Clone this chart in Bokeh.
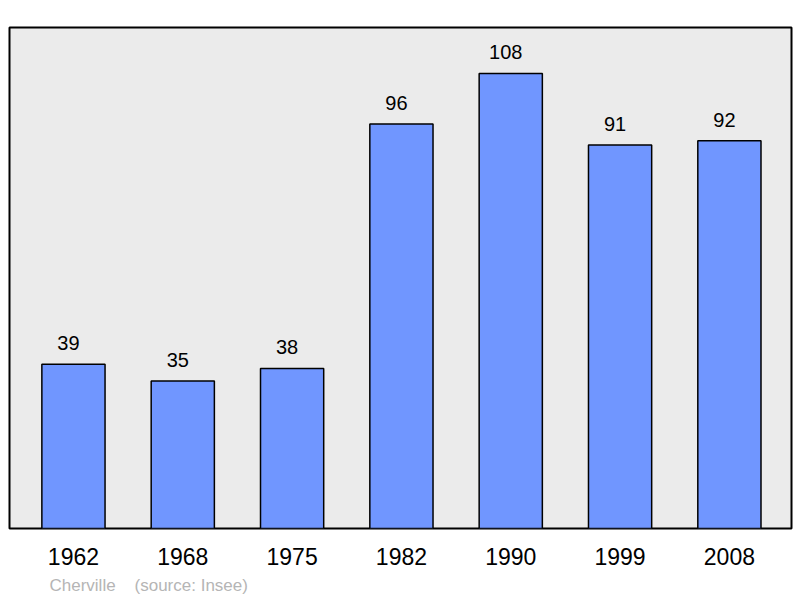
from bokeh.plotting import figure
from bokeh.models import ColumnDataSource, FixedTicker, Range1d, Title
from bokeh.core.properties import value
from bokeh.embed import file_html
from bokeh.resources import INLINE

years = ["1962", "1968", "1975", "1982", "1990", "1999", "2008"]
population = [39, 35, 38, 96, 108, 91, 92]
commune = "Cherville"
source_note = "(source: Insee)"

FONT = "Liberation Sans"
idx = list(range(len(years)))
src = ColumnDataSource(dict(x=idx, top=population, label=[str(v) for v in population]))

p = figure(frame_width=782, frame_height=501,
           x_range=Range1d(-0.585, 6.568), y_range=Range1d(0, 118.9),
           output_backend="svg", toolbar_location=None,
           min_border_left=9, min_border_right=7, min_border_top=27, min_border_bottom=0,
           background_fill_color="#ebebeb", border_fill_color="white")
p.outline_line_color = "black"
p.outline_line_width = 2
p.xgrid.visible = False
p.ygrid.visible = False
p.yaxis.visible = False

p.vbar(x="x", top="top", bottom=0, width=0.578, source=src,
       fill_color="#7096ff", line_color="black", line_width=1.5)
p.text(x="x", y="top", text="label", source=src, x_offset=-5, y_offset=-21,
       text_align="center", text_baseline="alphabetic",
       text_font=value(FONT), text_font_size="20px", text_color="black")

xa = p.xaxis[0]
xa.ticker = FixedTicker(ticks=idx)
xa.major_label_overrides = {i: y for i, y in zip(idx, years)}
xa.axis_line_color = None
xa.major_tick_line_color = None
xa.minor_tick_line_color = None
xa.major_tick_out = 0
xa.major_label_standoff = 19
xa.major_label_text_font = FONT
xa.major_label_text_font_size = "23px"
xa.major_label_text_color = "black"

note = Title(text=commune + "\u00a0\u00a0\u00a0\u00a0" + source_note, align="left", offset=40,
             text_font=FONT, text_font_size="17px", text_font_style="normal",
             text_color="#b5b5b5", standoff=13)
p.add_layout(note, "below")

open("out.html", "w").write(file_html(p, INLINE))
